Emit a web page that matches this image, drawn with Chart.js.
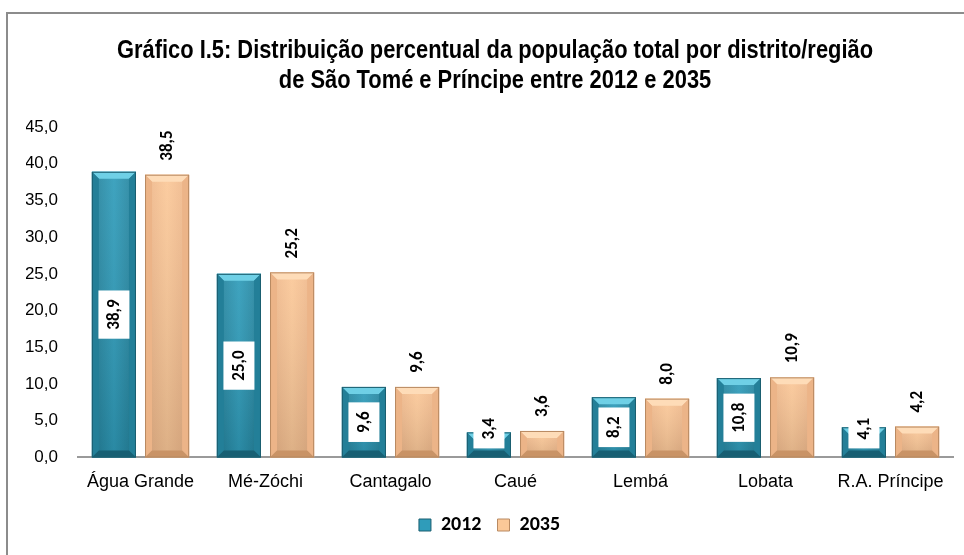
<!DOCTYPE html>
<html>
<head>
<meta charset="utf-8">
<script src="https://cdn.jsdelivr.net/npm/chart.js@4.4.1/dist/chart.umd.min.js"></script>
<style>
  html, body { margin: 0; padding: 0; background: #fff; }
  #wrap { position: relative; width: 964px; height: 555px; overflow: hidden; }
  #frame { position: absolute; left: 6px; top: 12px; width: 1000px; height: 600px;
           border: 2px solid #8c8c8c; box-sizing: border-box; }
  canvas { position: absolute; left: 0; top: 0; }
</style>
</head>
<body>
<div id="wrap">
  <div id="frame"></div>
  <canvas id="chart" width="964" height="555"></canvas>
</div>
<script>
// ── Dados ─────────────────────────────────────────────────────────
const DISTRITOS = ['Água Grande', 'Mé-Zóchi', 'Cantagalo', 'Caué', 'Lembá', 'Lobata', 'R.A. Príncipe'];
const ANOS      = ['2012', '2035'];
const V2012     = [38.9, 25.0, 9.6, 3.4, 8.2, 10.8, 4.1];
const V2035     = [38.5, 25.2, 9.6, 3.6, 8.0, 10.9, 4.2];
const Y_MAX     = 45;
const Y_STEP    = 5;

const TITULO = [
  'Gráfico I.5: Distribuição percentual da população total por distrito/região',
  'de São Tomé e Príncipe entre 2012 e 2035',
];

const SANS   = "'Liberation Sans', Arial, sans-serif";
const LABELF = "Carlito, Calibri, Lato, 'Open Sans', sans-serif";

// cores: meio, topo claro, lados, fundo escuro, contorno
const TEAL  = { mid: '#2f9cba', top: '#6fd0e6', side: '#237f98', bot: '#175f73', line: '#1b5f70' };
const PEACH = { mid: '#fbc898', top: '#fedcb8', side: '#ecb488', bot: '#c99366', line: '#b98a62' };

const fmt = v => v.toFixed(1).replace('.', ',');

// ── Título (fonte estreita simulada) ──────────────────────────────
const tituloPlugin = {
  id: 'titulo',
  afterDraw(chart) {
    const ctx = chart.ctx;
    ctx.save();
    ctx.font = 'bold 25px ' + SANS;
    ctx.fillStyle = '#000';
    ctx.textAlign = 'center';
    ctx.textBaseline = 'alphabetic';
    TITULO.forEach((linha, i) => {
      ctx.setTransform(0.875, 0, 0, 1, 495, 58 + i * 30);
      ctx.fillText(linha, 0, 0);
    });
    ctx.restore();
  },
};

// ── Bisel das barras ──────────────────────────────────────────────
function poly(ctx, pts, fill) {
  ctx.beginPath();
  ctx.moveTo(pts[0][0], pts[0][1]);
  for (let i = 1; i < pts.length; i++) ctx.lineTo(pts[i][0], pts[i][1]);
  ctx.closePath();
  ctx.fillStyle = fill;
  ctx.fill();
}

const bevelPlugin = {
  id: 'bevel',
  afterDatasetDraw(chart, args) {
    const ctx = chart.ctx;
    const pal = args.index === 0 ? TEAL : PEACH;
    args.meta.data.forEach(bar => {
      const { x, y, base, width } = bar.getProps(['x', 'y', 'base', 'width'], true);
      const l = x - width / 2, r = x + width / 2, t = y, b = base;
      const d = Math.min(7, (b - t) / 2);
      ctx.save();
      const g = ctx.createLinearGradient(l, 0, r, 0);
      g.addColorStop(0, pal.side);
      g.addColorStop(0.5, pal.mid);
      g.addColorStop(1, pal.side);
      ctx.fillStyle = g;
      ctx.fillRect(l, t, r - l, b - t);
      const gv = ctx.createLinearGradient(0, t, 0, b);
      gv.addColorStop(0, 'rgba(255,255,255,0.08)');
      gv.addColorStop(1, 'rgba(0,0,0,0.12)');
      ctx.fillStyle = gv;
      ctx.fillRect(l, t, r - l, b - t);
      poly(ctx, [[l, t], [r, t], [r - d, t + d], [l + d, t + d]], pal.top);
      poly(ctx, [[l, t], [l + d, t + d], [l + d, b - d], [l, b]], pal.side);
      poly(ctx, [[r, t], [r - d, t + d], [r - d, b - d], [r, b]], pal.side);
      poly(ctx, [[l, b], [l + d, b - d], [r - d, b - d], [r, b]], pal.bot);
      ctx.strokeStyle = pal.line;
      ctx.lineWidth = 1;
      ctx.strokeRect(l + 0.5, t + 0.5, r - l - 1, b - t - 1);
      ctx.restore();
    });
  },
};

// ── Rótulos de dados (verticais) ──────────────────────────────────
const rotulosPlugin = {
  id: 'rotulos',
  afterDatasetsDraw(chart) {
    const ctx = chart.ctx;
    ctx.save();
    ctx.font = 'bold 17px ' + LABELF;
    ctx.textBaseline = 'middle';
    chart.data.datasets.forEach((ds, di) => {
      const meta = chart.getDatasetMeta(di);
      meta.data.forEach((bar, i) => {
        const { x, y, base } = bar.getProps(['x', 'y', 'base'], true);
        const txt = fmt(ds.data[i]);
        const w = ctx.measureText(txt).width;
        ctx.fillStyle = '#000';
        if (di === 0) {
          const bh = w + 18, bw = 31;
          let cy = (y + base) / 2;
          cy = Math.min(cy, base - 9 - bh / 2);
          ctx.fillStyle = '#fff';
          ctx.fillRect(x - bw / 2, cy - bh / 2, bw, bh);
          ctx.fillStyle = '#000';
          ctx.textAlign = 'center';
          ctx.setTransform(0, -1, 1, 0, x, cy);
          ctx.fillText(txt, 0, 1);
        } else {
          ctx.textAlign = 'left';
          ctx.setTransform(0, -1, 1, 0, x, y - 14);
          ctx.fillText(txt, 0, 1);
        }
        ctx.setTransform(1, 0, 0, 1, 0, 0);
      });
    });
    ctx.restore();
  },
};

// ── Gráfico ───────────────────────────────────────────────────────
new Chart(document.getElementById('chart'), {
  type: 'bar',
  data: {
    labels: DISTRITOS,
    datasets: [
      { label: ANOS[0], data: V2012, backgroundColor: TEAL.mid, borderWidth: 0,
        categoryPercentage: 0.85, barPercentage: 0.83 },
      { label: ANOS[1], data: V2035, backgroundColor: PEACH.mid, borderWidth: 0,
        categoryPercentage: 0.85, barPercentage: 0.83 },
    ],
  },
  options: {
    responsive: false,
    animation: false,
    devicePixelRatio: 1,
    layout: { padding: { left: 26, right: 11, top: 127, bottom: 10 } },
    plugins: {
      title: { display: false },
      legend: {
        position: 'bottom',
        labels: {
          color: '#000',
          font: { family: LABELF, size: 20, weight: 'bold' },
          boxWidth: 12,
          boxHeight: 12,
          padding: 16,
          generateLabels: chart => chart.data.datasets.map((ds, i) => ({
            text: ds.label,
            fillStyle: i === 0 ? TEAL.mid : PEACH.mid,
            strokeStyle: i === 0 ? TEAL.line : PEACH.line,
            lineWidth: 1,
            datasetIndex: i,
          })),
        },
      },
      tooltip: { enabled: false },
    },
    scales: {
      x: {
        grid: { display: false },
        border: { display: true, color: '#9a9a9a', width: 2 },
        ticks: { color: '#000', font: { family: SANS, size: 18 }, padding: 6 },
      },
      y: {
        min: 0,
        max: Y_MAX,
        grid: { display: false, drawTicks: false },
        border: { display: false },
        ticks: {
          stepSize: Y_STEP,
          color: '#000',
          font: { family: SANS, size: 17 },
          padding: 20,
          callback: v => fmt(v),
        },
        afterFit: s => { s.width = 52; },
      },
    },
  },
  plugins: [bevelPlugin, rotulosPlugin, tituloPlugin],
});
</script>
</body>
</html>
